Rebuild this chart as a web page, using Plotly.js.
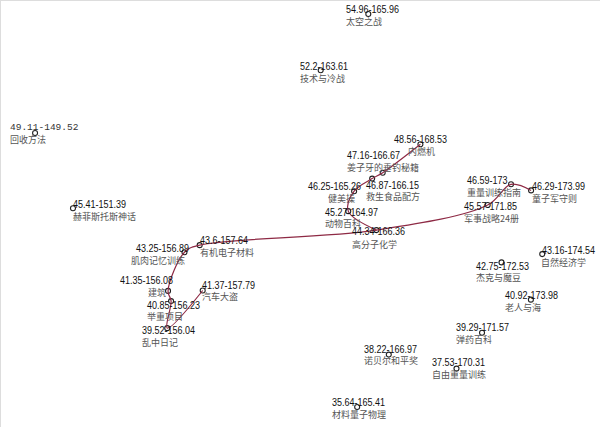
<!DOCTYPE html>
<html><head><meta charset="utf-8">
<script src="https://cdn.plot.ly/plotly-3.0.1.min.js"></script>
<style>html,body{margin:0;padding:0;background:#fff;}#c{width:600px;height:427px;}</style>
</head><body><div id="c"></div>
<script>
// data
const names = ['太空之战','技术与冷战','回收方法','内燃机','姜子牙的垂钓秘籍','健美操','救生食品配方','动物百科','高分子化学','重量训练指南','童子军守则','军事战略24册','赫菲斯托斯神话','肌肉记忆训练','有机电子材料','建筑','汽车大盗','举重项目','乱中日记','自然经济学','杰克与魔豆','老人与海','弹药百科','诺贝尔和平奖','自由重量训练','材料量子物理'];
const lat = [54.96,52.2,49.11,48.56,47.16,46.25,46.87,45.27,44.34,46.59,46.29,45.57,45.41,43.25,43.6,41.35,41.37,40.85,39.52,43.16,42.75,40.92,39.29,38.22,37.53,35.64];
const lon = [165.96,163.61,149.52,168.53,166.67,165.26,166.15,164.97,166.36,173,173.99,171.85,151.39,156.89,157.64,156.08,157.79,156.23,156.04,174.54,172.53,173.98,171.57,166.97,170.31,165.41];
const labels = ['54.96-165.96','52.2-163.61','49.11-149.52','48.56-168.53','47.16-166.67','46.25-165.26','46.87-166.15','45.27-164.97','44.34-166.36','46.59-173','46.29-173.99','45.57-171.85','45.41-151.39','43.25-156.89','43.6-157.64','41.35-156.08','41.37-157.79','40.85-156.23','39.52-156.04','43.16-174.54','42.75-172.53','40.92-173.98','39.29-171.57','38.22-166.97','37.53-170.31','35.64-165.41'];
const routeA = ['汽车大盗','乱中日记','举重项目','建筑','肌肉记忆训练','有机电子材料','高分子化学','军事战略24册','重量训练指南','童子军守则'];
const routeB = ['内燃机','姜子牙的垂钓秘籍','救生食品配方','健美操','动物百科','高分子化学'];

// label placement (pixels relative to marker)
const numDx  = [-22,-21,-25,-26,-36,-46,-6,-23,-24,-44,1,-24,0,-48,0,-48,-1,-24,-25,0,-25,-26,-26,-25,-24,-25];
const numDy  = [-5,-4,-6,-5,-17,-5,7,1,1,-4,-4,1,-4,-4,-5,-10,-5,4,2,-4,4,-4,-5,-5,-6,-5];
const nameDx = [-22,-21,-25,-12,-36,-26,-6,-23,-24,-44,1,-24,0,-53,0,-20,-1,-24,-25,-1,-25,-26,-26,-25,-24,-25];
const nameDy = [7,8,6,7,-5,7,18,12,14,8,8,13,8,8,7,2,6,15,14,8,15,8,7,6,6,7];

const numFamily = '"Liberation Sans", Arial, sans-serif';
const numSize = 10;
const cv = document.createElement('canvas').getContext('2d');
cv.font = numSize + 'px ' + numFamily;
const squeeze = 53 / cv.measureText('54.96-165.96').width; // narrow look of reference

function route(r){
  const idx = r.map(n => names.indexOf(n));
  return {x: idx.map(i=>lon[i]), y: idx.map(i=>lat[i])};
}
const traces = [
  {type:'scatter', mode:'markers', x:lon, y:lat, hoverinfo:'skip',
   marker:{symbol:'circle-open', size:5, color:'#222', line:{width:1.1, color:'#222'}}},
  Object.assign({type:'scatter', mode:'lines', hoverinfo:'skip',
    line:{color:'#8e2a45', width:1.2, shape:'spline', smoothing:1}}, route(routeA)),
  Object.assign({type:'scatter', mode:'lines', hoverinfo:'skip',
    line:{color:'#8e2a45', width:1.2, shape:'spline', smoothing:1}}, route(routeB))
];

const annotations = [];
const monoIdx = labels.indexOf('49.11-149.52');
for (let i=0;i<names.length;i++){
  const mono = i === monoIdx;
  annotations.push({x:lon[i], y:lat[i], xref:'x', yref:'y', text:labels[i], showarrow:false,
    xanchor:'left', yanchor:'middle', align:'left', xshift:numDx[i], yshift:-numDy[i], borderpad:0, borderwidth:0,
    font: mono ? {family:'"Liberation Mono", "DejaVu Sans Mono", monospace', size:9.5, color:'#333'}
               : {family:numFamily, size:numSize, color:'#111'}});
  annotations.push({x:lon[i], y:lat[i], xref:'x', yref:'y', text:names[i], showarrow:false,
    xanchor:'left', yanchor:'middle', align:'left', xshift:nameDx[i], yshift:-nameDy[i], borderpad:0, borderwidth:0,
    font:{family:'"Noto Sans CJK SC", sans-serif', size:9, color:'#555'}});
}

const layout = {
  width:600, height:427, margin:{l:0,r:0,t:0,b:0},
  paper_bgcolor:'#fff', plot_bgcolor:'#fff', showlegend:false,
  xaxis:{range:[147.79,177.39], visible:false, fixedrange:true},
  yaxis:{range:[34.66,55.65], visible:false, fixedrange:true},
  annotations: annotations,
  shapes:[
    {type:'line', xref:'paper', yref:'paper', x0:0, x1:1, y0:1, y1:1, line:{color:'#ddd', width:2}},
    {type:'line', xref:'paper', yref:'paper', x0:0, x1:0, y0:0, y1:1, line:{color:'#ddd', width:2}}
  ]
};
Plotly.newPlot('c', traces, layout, {staticPlot:true, displayModeBar:false}).then(function(gd){
  gd.querySelectorAll('g.annotation').forEach(function(g){
    const k = +g.getAttribute('data-index');
    if (k % 2 !== 0 || k/2 === monoIdx) return;
    const t = g.querySelector('text.annotation-text');
    if (!t) return;
    const w = cv.measureText(labels[k/2]).width * squeeze;
    t.setAttribute('textLength', w.toFixed(1));
    t.setAttribute('lengthAdjust', 'spacingAndGlyphs');
  });
});
</script></body></html>
